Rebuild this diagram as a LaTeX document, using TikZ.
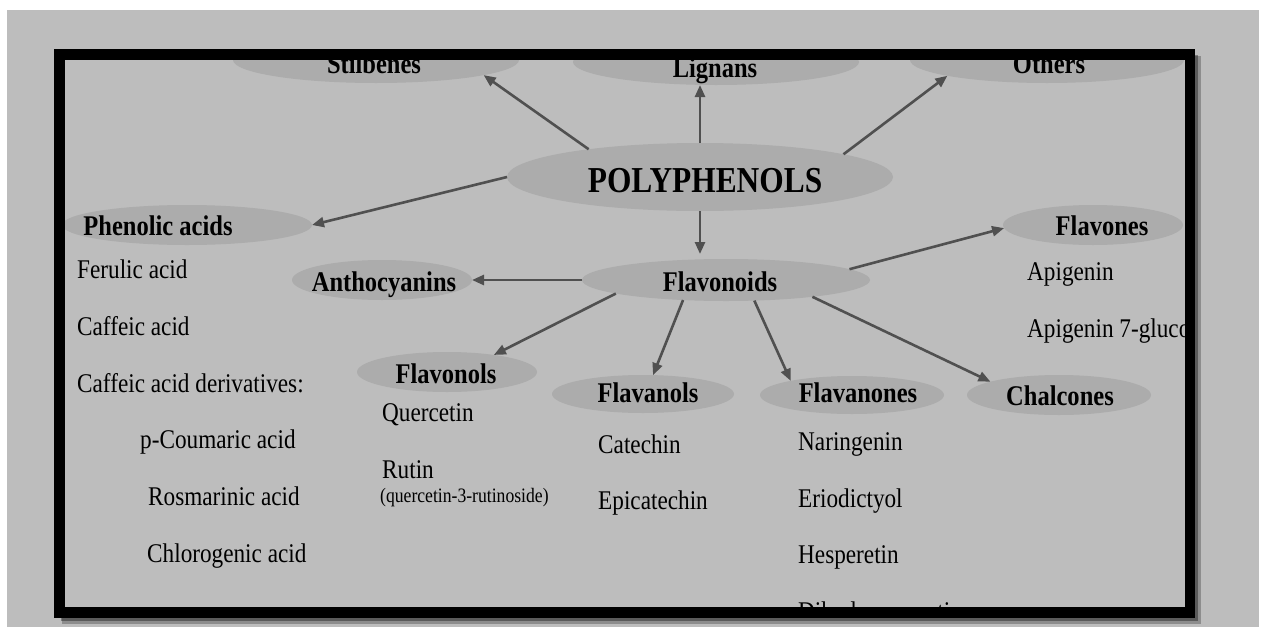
\documentclass[tikz,border=0pt]{standalone}
\usepackage{fontspec}
\setmainfont{Liberation Serif}[FakeStretch=0.86]
\usetikzlibrary{shapes.geometric,arrows.meta}
\definecolor{bgc}{RGB}{189,189,189}
\definecolor{ellc}{RGB}{172,172,172}
\definecolor{arrc}{RGB}{80,80,80}
\tikzset{
  oval/.style={ellipse, fill=ellc, draw=none, inner sep=0pt, outer sep=0pt},
  lbl/.style={anchor=base, inner sep=0pt, font=\fontsize{28.5}{32}\selectfont\bfseries},
  item/.style={anchor=base west, inner sep=0pt, font=\fontsize{27}{32}\selectfont},
  tiny/.style={anchor=base west, inner sep=0pt, font=\fontsize{20.5}{22}\selectfont},
  arr/.style={draw=arrc, line width=2.6pt, -{Triangle[length=12pt,width=10pt]}},
}
\begin{document}
\begin{tikzpicture}[x=1pt,y=-1pt]
\useasboundingbox (0,0) rectangle (1264,627);
\fill[white] (0,0) rectangle (1264,627);
\fill[bgc] (7,10) rectangle (1259,627);
% frame shadow
\fill[black, opacity=0.25] (62,56) rectangle (1201,624);
\fill[black, opacity=0.35] (61,55) rectangle (1198,621);
\fill[bgc] (59.5,54) rectangle (1190,612.5);
\begin{scope}
\clip (64,60) rectangle (1185,607);
% ellipses
\node[oval, minimum width=286pt, minimum height=46pt] (stil) at (376,60) {};
\node[oval, minimum width=286pt, minimum height=46pt] (lign) at (716,62) {};
\node[oval, minimum width=274pt, minimum height=46pt] (oth)  at (1047,60) {};
\node[oval, minimum width=386pt, minimum height=68pt] (poly) at (700,177) {};
\node[oval, minimum width=250pt, minimum height=40pt] (phen) at (187,225) {};
\node[oval, minimum width=180pt, minimum height=40pt] (anth) at (382,280) {};
\node[oval, minimum width=288pt, minimum height=42pt] (flav) at (726,280) {};
\node[oval, minimum width=180pt, minimum height=40pt] (flvs) at (1093,225) {};
\node[oval, minimum width=180pt, minimum height=40pt] (flol) at (447,372) {};
\node[oval, minimum width=182pt, minimum height=38pt] (flan) at (643,394) {};
\node[oval, minimum width=184pt, minimum height=38pt] (flnn) at (852,395) {};
\node[oval, minimum width=184pt, minimum height=40pt] (chal) at (1059,395) {};
% labels
\node[lbl] (tstil) at (374,73) {Stilbenes};
\node[lbl] (tlign) at (715,77) {Lignans};
\node[lbl] (toth)  at (1049,73) {Others};
\node[lbl, font=\fontsize{36.5}{40}\selectfont\bfseries] (tpoly) at (705,192) {POLYPHENOLS};
\node[lbl] (tphen) at (158,235) {Phenolic acids};
\node[lbl] (tanth) at (384,291) {Anthocyanins};
\node[lbl] (tflav) at (720,291) {Flavonoids};
\node[lbl] (tflvs) at (1102,235) {Flavones};
\node[lbl] (tflol) at (446,383) {Flavonols};
\node[lbl] (tflan) at (648,402) {Flavanols};
\node[lbl] (tflnn) at (858,402) {Flavanones};
\node[lbl] (tchal) at (1060,405) {Chalcones};
% items
\node[item] (i1) at (77,278) {Ferulic acid};
\node[item] (i2) at (77,335) {Caffeic acid};
\node[item] (i3) at (77,392) {Caffeic acid derivatives:};
\node[item] (i4) at (140,448) {p-Coumaric acid};
\node[item] (i5) at (148,505) {Rosmarinic acid};
\node[item] (i6) at (147,562) {Chlorogenic acid};
\node[item] (q1) at (382,421) {Quercetin};
\node[item] (q2) at (382,478) {Rutin};
\node[tiny] (q3) at (380,502) {(quercetin-3-rutinoside)};
\node[item] (c1) at (598,453) {Catechin};
\node[item] (c2) at (598,509) {Epicatechin};
\node[item] (n1) at (798,450) {Naringenin};
\node[item] (n2) at (798,507) {Eriodictyol};
\node[item] (n3) at (798,563) {Hesperetin};
\node[item] (n4) at (798,620) {Dihydroquercetin};
\node[item] (a1) at (1027,280) {Apigenin};
\node[item] (a2) at (1027,337) {Apigenin 7-glucoside};
% arrows
\draw[arr] (poly.166) -- (stil.-8);
\draw[arr] (poly.north) -- (poly.north |- lign.south);
\draw[arr] (poly.9) -- (oth.189);
\draw[arr] (poly.west) -- (phen.east);
\draw[arr, shorten >=5pt] (poly.south) -- (poly.south |- flav.north);
\draw[arr] (flav.west) -- (anth.east);
\draw[arr] (flav.5.6) -- (flvs.182);
\draw[arr] (flav.187) -- (flol.20);
\draw[arr] (flav.205) -- (flan.62);
\draw[arr] (flav.-36) -- (flnn.167);
\draw[arr] (flav.-11) -- (chal.169);
\end{scope}
% frame
\draw[black, line width=10.5pt] (59.5,54.5) rectangle (1190,612.5);
\end{tikzpicture}
\end{document}
